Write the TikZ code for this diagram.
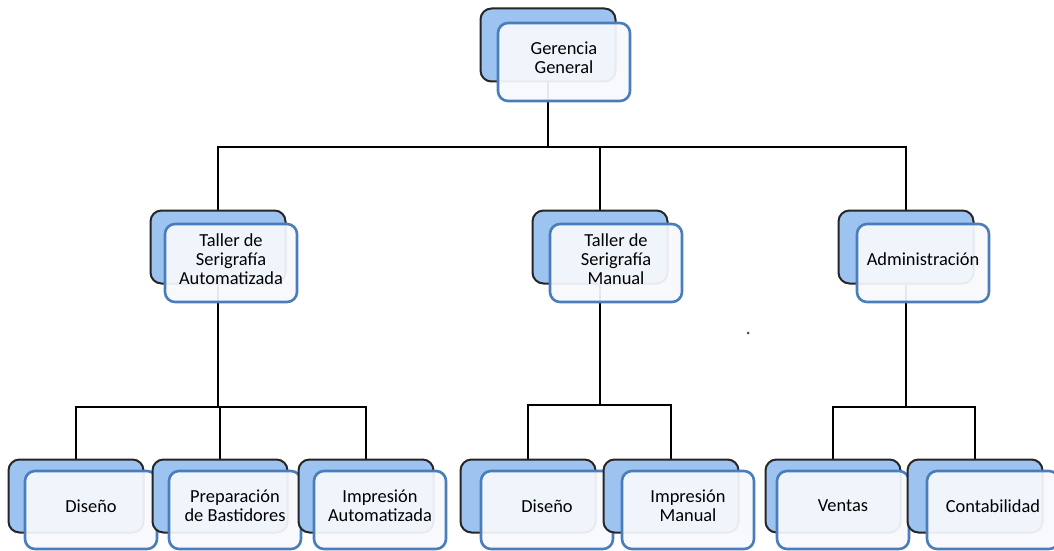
\documentclass[tikz,border=0pt]{standalone}
\usepackage{fontspec}
\setmainfont{Carlito}
\usetikzlibrary{positioning, backgrounds}
\definecolor{boxBlue}{HTML}{9DC3F0}
\definecolor{boxLine}{HTML}{262626}
\definecolor{frontLine}{HTML}{4A7EBB}
\definecolor{frontFill}{HTML}{F7F9FD}

\tikzset{
  backbox/.style={draw=boxLine, line width=1pt, fill=boxBlue, rounded corners=5.5pt,
    minimum width=67.5pt, minimum height=36.5pt, inner sep=0pt},
  frontbox/.style={draw=frontLine, line width=1.3pt, fill=frontFill, fill opacity=0.93,
    text opacity=1, rounded corners=5pt, minimum width=66pt, minimum height=39pt,
    inner sep=1pt, align=center, text depth=4pt, font=\fontsize{9.2}{9.4}\selectfont},
  conn/.style={draw=black, line width=1pt}
}

\begin{document}
\begin{tikzpicture}[x=0.5pt, y=-0.5pt]
  \useasboundingbox (0,0) rectangle (1054,551);

  % top level
  \node[backbox] (gg-b) at (548,45) {};
  \node[frontbox] (gg) at (564,62) {Gerencia\\General};

  % second level
  \node[backbox] (tsa-b) at (218,247) {};
  \node[frontbox] (tsa) at (231,263) {Taller de\\Serigrafía\\Automatizada};
  \node[backbox] (tsm-b) at (600,247) {};
  \node[frontbox] (tsm) at (616,263) {Taller de\\Serigrafía\\Manual};
  \node[backbox] (adm-b) at (906,247) {};
  \node[frontbox] (adm) at (923,263) {Administración};

  % third level
  \node[backbox] (dis1-b) at (76,496) {};
  \node[frontbox] (dis1) at (91,510) {Diseño};
  \node[backbox] (prep-b) at (220,496) {};
  \node[frontbox] (prep) at (235,510) {Preparación\\de Bastidores};
  \node[backbox] (impa-b) at (366,496) {};
  \node[frontbox] (impa) at (380,510) {Impresión\\Automatizada};
  \node[backbox] (dis2-b) at (528,496) {};
  \node[frontbox] (dis2) at (547,510) {Diseño};
  \node[backbox] (impm-b) at (671,496) {};
  \node[frontbox] (impm) at (688,510) {Impresión\\Manual};
  \node[backbox] (ven-b) at (833,496) {};
  \node[frontbox] (ven) at (843,510) {Ventas};
  \node[backbox] (cont-b) at (975,496) {};
  \node[frontbox] (cont) at (993,510) {Contabilidad};

  \coordinate (bus0) at (548,147);
  \coordinate (bus1) at (218,407);
  \coordinate (bus2) at (600,405);
  \coordinate (bus3) at (906,407);

  \begin{scope}[on background layer]
    \draw[conn] (gg-b.south) -- (gg-b.south |- bus0) -| (tsa-b.north);
    \draw[conn] (gg-b.south |- bus0) -| (tsm-b.north);
    \draw[conn] (gg-b.south |- bus0) -| (adm-b.north);

    \draw[conn] (tsa-b.south) -- (bus1) -| (dis1-b.north);
    \draw[conn] (bus1) -- (prep-b.north |- bus1) -- (prep-b.north);
    \draw[conn] (bus1) -| (impa-b.north);

    \draw[conn] (tsm-b.south) -- (bus2) -| (dis2-b.north);
    \draw[conn] (bus2) -| (impm-b.north);

    \draw[conn] (adm-b.south) -- (bus3) -| (ven-b.north);
    \draw[conn] (bus3) -| (cont-b.north);
  \end{scope}

  % stray dot
  \fill[black!70] (748,333) circle (1.5);
\end{tikzpicture}
\end{document}
